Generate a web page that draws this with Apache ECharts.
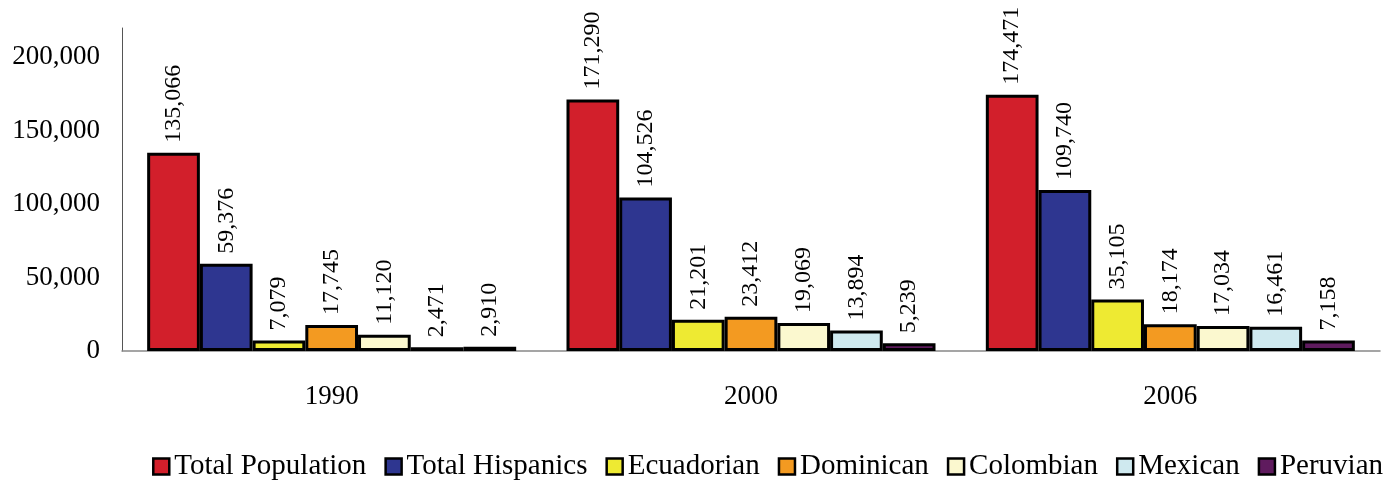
<!DOCTYPE html>
<html>
<head>
<meta charset="utf-8">
<script src="https://cdn.jsdelivr.net/npm/echarts@6/dist/echarts.min.js"></script>
<style>
  html, body { margin: 0; padding: 0; background: #fff; }
  #myChart { width: 1400px; height: 483px; }
</style>
</head>
<body>
<div id="myChart"></div>
<script>
// 数据
const years = ["1990", "2000", "2006"];
const seriesNames = ["Total Population", "Total Hispanics", "Ecuadorian", "Dominican", "Colombian", "Mexican", "Peruvian"];
const totalPopulation = [135066, 171290, 174471];
const totalHispanics = [59376, 104526, 109740];
const ecuadorian = [7079, 21201, 35105];
const dominican = [17745, 23412, 18174];
const colombian = [11120, 19069, 17034];
const mexican = [2471, 13894, 16461];
const peruvian = [2910, 5239, 7158];
const colors = ["#d21f2b", "#2e3690", "#eeea32", "#f39a21", "#fbf8cf", "#cfe9ef", "#5f1b5e"];

const allValues = [totalPopulation, totalHispanics, ecuadorian, dominican, colombian, mexican, peruvian];
const font = "'Liberation Serif', 'DejaVu Serif', serif";
const fmt = v => v.toLocaleString("en-US");

let myChart = echarts.init(document.getElementById("myChart"));
myChart.setOption({
  animation: false,
  textStyle: { fontFamily: font },
  grid: { left: 122, right: 20, top: 28, bottom: 132 },
  legend: {
    bottom: -3,
    right: 12,
    itemWidth: 16,
    itemHeight: 16,
    itemGap: 18,
    icon: "rect",
    itemStyle: { borderColor: "#000", borderWidth: 2.5 },
    textStyle: { fontFamily: font, fontSize: 29, color: "#000" },
    data: seriesNames
  },
  xAxis: {
    type: "category",
    data: years,
    axisLine: { lineStyle: { color: "#888", width: 1.5 } },
    axisTick: { show: false },
    axisLabel: { fontFamily: font, fontSize: 27, color: "#000", margin: 32 }
  },
  yAxis: {
    type: "value",
    min: 0,
    max: 220000,
    interval: 50000,
    splitLine: { show: false },
    axisLine: { show: true, lineStyle: { color: "#555", width: 1 } },
    axisTick: { show: false },
    axisLabel: {
      fontFamily: font, fontSize: 27, color: "#000", margin: 22,
      showMaxLabel: false,
      formatter: v => fmt(v)
    }
  },
  series: seriesNames.map((name, i) => ({
    name: name,
    type: "bar",
    data: allValues[i],
    barGap: "0%",
    barCategoryGap: "12%",
    itemStyle: { color: colors[i], borderColor: "#000", borderWidth: 3 },
    label: {
      show: true,
      position: "top",
      rotate: 90,
      align: "left",
      verticalAlign: "middle",
      distance: 10,
      fontFamily: font,
      fontSize: 24,
      color: "#000",
      formatter: p => fmt(p.value)
    }
  }))
});
</script>
</body>
</html>
